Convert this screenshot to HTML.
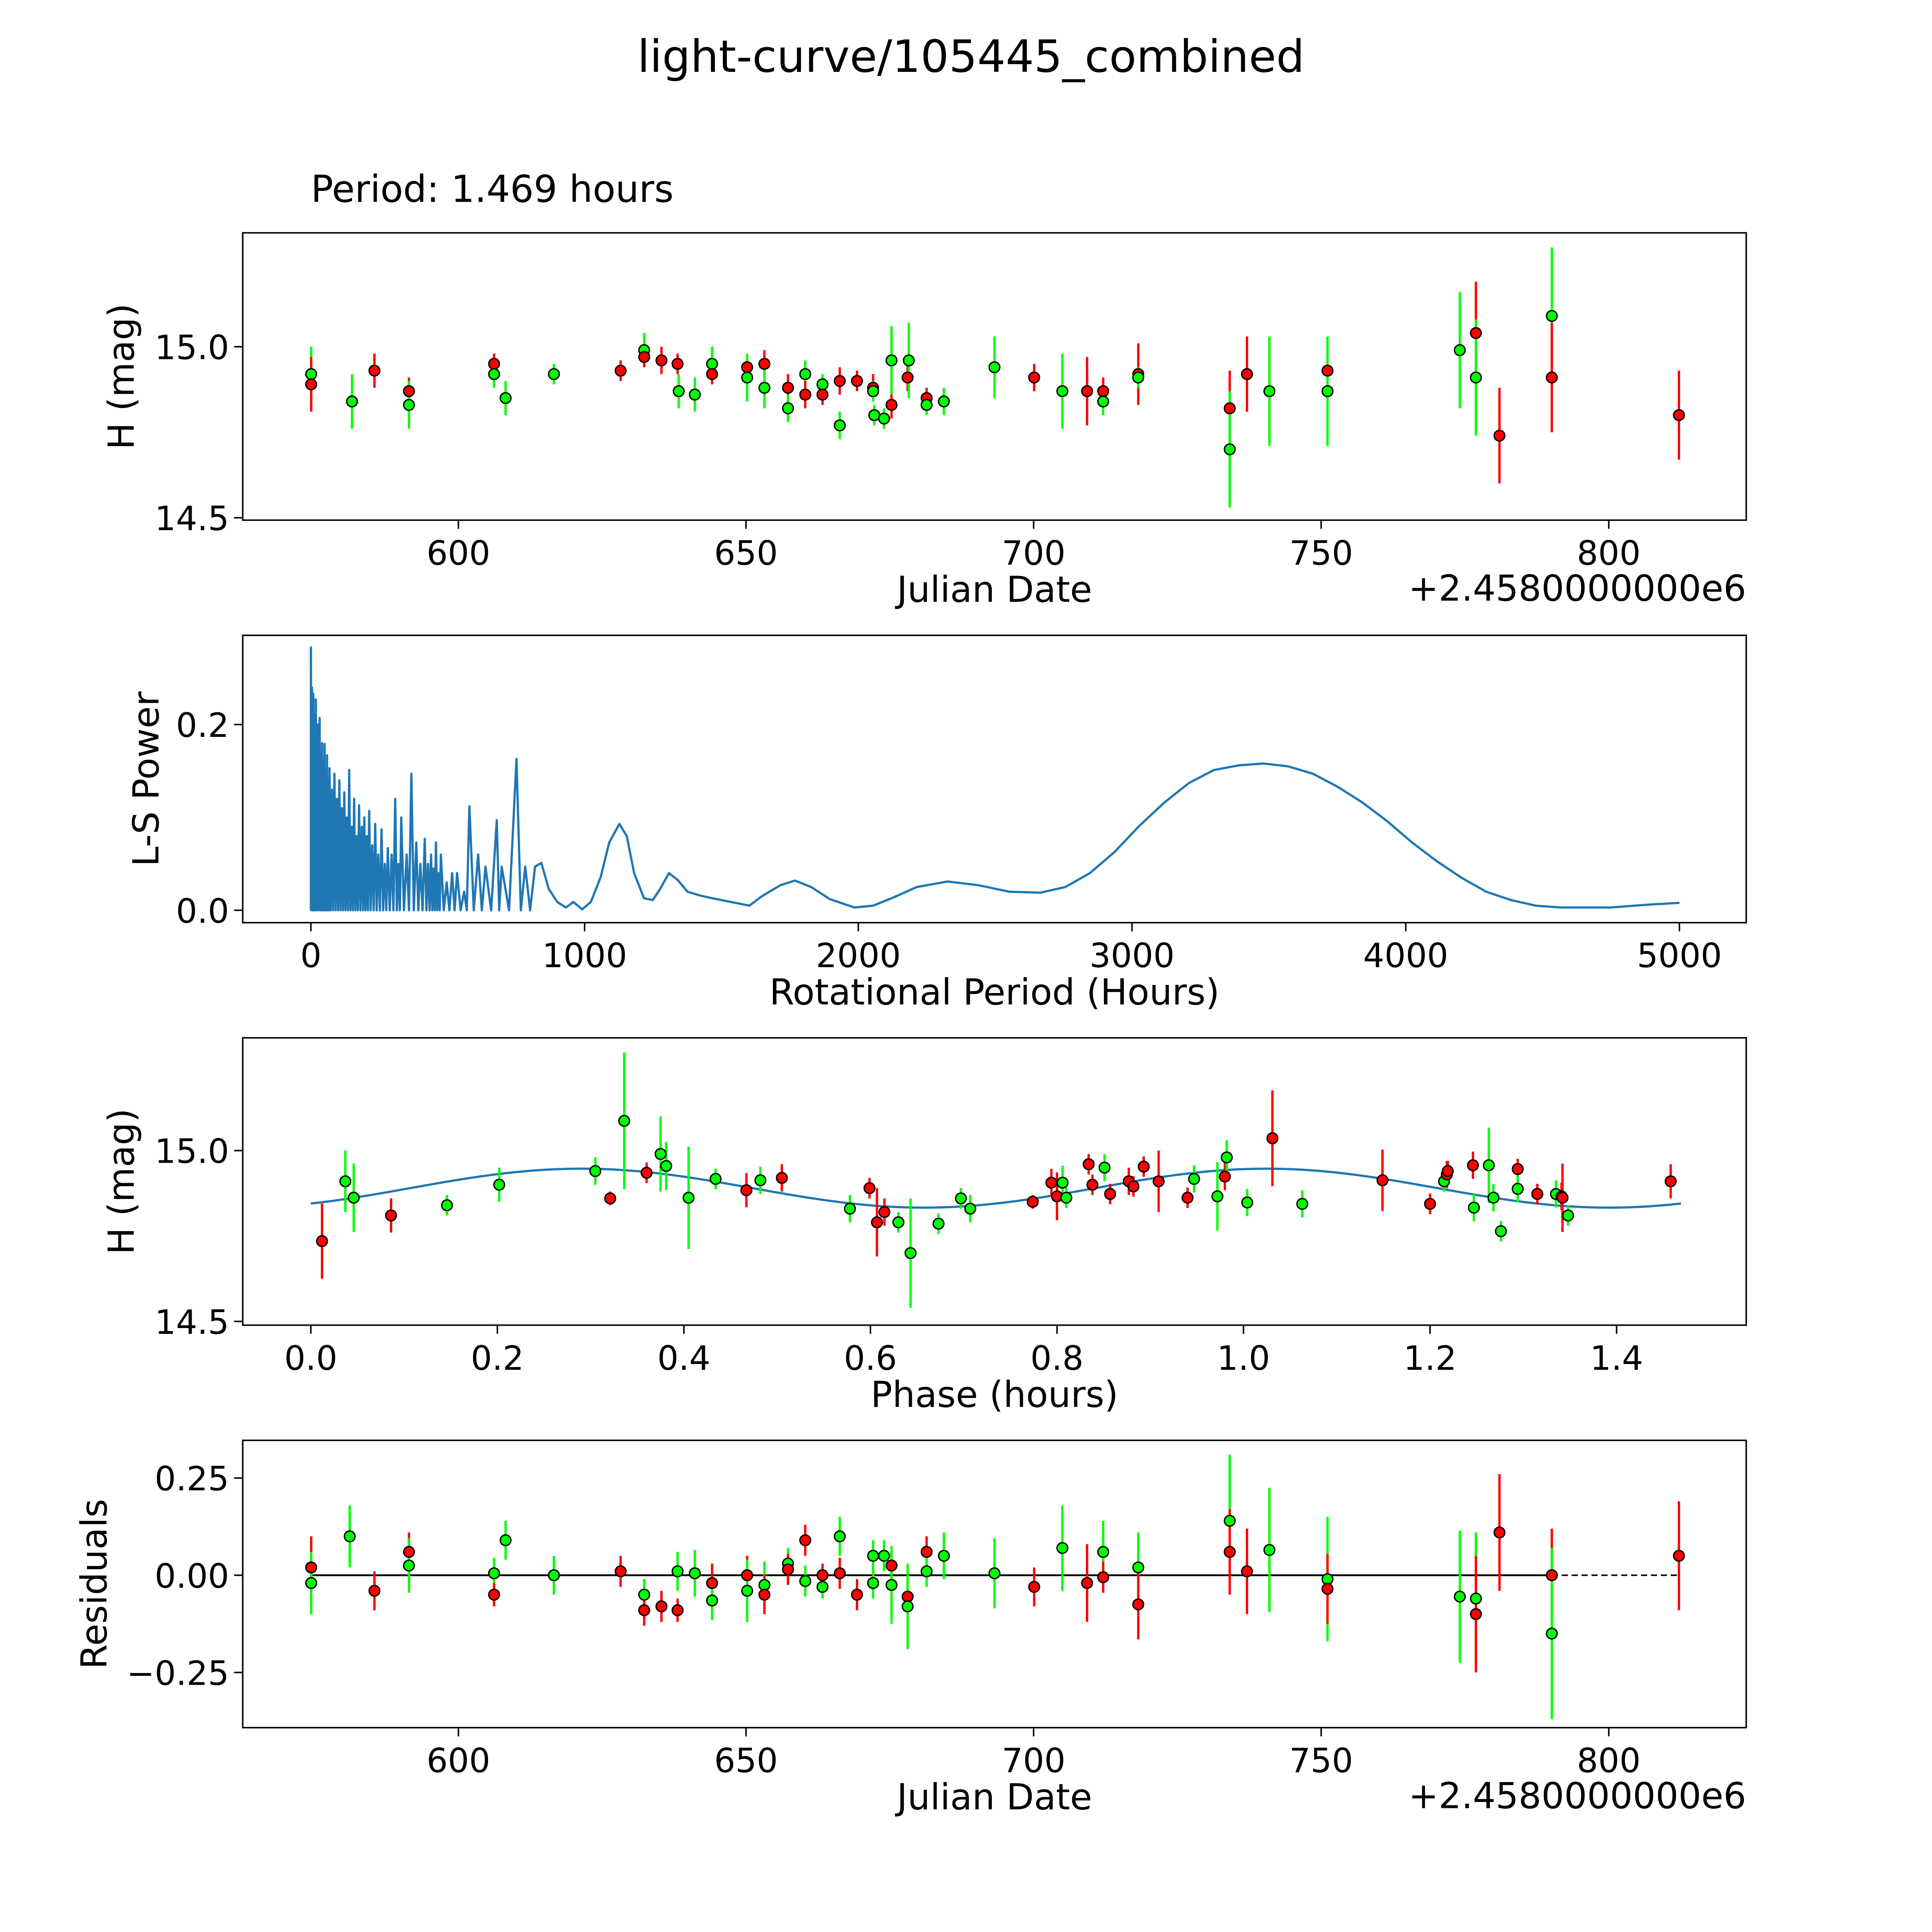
<!DOCTYPE html>
<html><head><meta charset="utf-8"><style>
html,body{margin:0;padding:0;background:#fff;overflow:hidden;width:100%;height:100%}
svg{display:block;width:100vw;height:100vh}
text{font-family:"DejaVu Sans","Liberation Sans",sans-serif;fill:#000}
</style></head><body>
<svg id="fig" viewBox="0 0 1560 1560" preserveAspectRatio="none" xmlns="http://www.w3.org/2000/svg">
<rect x="0" y="0" width="1560" height="1560" fill="#fff"/>
<text x="784" y="58" font-size="36" text-anchor="middle">light-curve/105445_combined</text>
<text x="251" y="163" font-size="30">Period: 1.469 hours</text>
</svg>
<script>
// ---- Panel 1: light curve ----
const lcJD  = [574.4,574.4,581.5,585.4,591.4,591.4,606.2,606.2,608.2,616.6,628.2,632.3,632.3,635.3,638.1,638.3,641.1,644.1,644.1,650.2,650.2,653.2,653.2,657.3,657.3,660.3,660.3,663.3,663.3,666.3,666.3,669.3,672.1,672.1,672.3,674.0,675.3,675.3,678.1,678.3,681.4,681.4,684.4,693.2,700.1,705.0,709.3,712.1,712.1,718.2,718.2,734.1,734.1,737.1,741.0,751.1,751.1,774.1,776.9,776.9,781.0,790.1,790.1,812.2];
const lcMag = [14.92,14.89,14.84,14.93,14.87,14.83,14.95,14.92,14.85,14.92,14.93,14.99,14.97,14.96,14.95,14.87,14.86,14.95,14.92,14.94,14.91,14.95,14.88,14.88,14.82,14.92,14.86,14.89,14.86,14.90,14.77,14.90,14.88,14.87,14.80,14.79,14.83,14.96,14.91,14.96,14.85,14.83,14.84,14.94,14.91,14.87,14.87,14.87,14.84,14.92,14.91,14.82,14.70,14.92,14.87,14.93,14.87,14.99,15.04,14.91,14.74,15.09,14.91,14.80];
const lcErr = [0.08,0.08,0.08,0.05,0.04,0.07,0.03,0.04,0.05,0.03,0.03,0.05,0.03,0.04,0.03,0.05,0.05,0.05,0.03,0.03,0.07,0.04,0.06,0.04,0.04,0.04,0.04,0.03,0.03,0.04,0.04,0.03,0.04,0.03,0.03,0.03,0.04,0.10,0.04,0.11,0.03,0.03,0.04,0.09,0.04,0.11,0.10,0.04,0.04,0.09,0.03,0.11,0.17,0.11,0.16,0.09,0.16,0.17,0.15,0.17,0.14,0.20,0.16,0.13];
const lcColors = ["g","r","g","r","r","g","r","g","g","g","r","g","r","r","r","g","g","g","r","r","g","r","g","r","g","g","r","g","r","r","g","r","r","g","g","g","r","g","r","g","r","g","g","g","r","g","r","r","g","r","g","r","g","r","g","r","g","g","r","g","r","g","r","r"];

// ---- Panel 2: periodogram ----
const spikeHours = [0,4,9,13,18,25,32,37,41,46,50,55,59,63,68,77,86,95,104,113,122,131,140,149,158,167,176,186,195,204,213,224,235,246,258,270,281,295,308,320,330,350,367,385,400,416,428,439,448,457,466,475,496,516,534,560,579,611,638,679,697,751,783];
const spikePower = [0.283,0.24,0.233,0.21,0.227,0.2,0.207,0.17,0.18,0.16,0.179,0.15,0.167,0.14,0.153,0.13,0.147,0.12,0.14,0.11,0.127,0.1,0.151,0.09,0.12,0.08,0.113,0.09,0.1,0.08,0.107,0.07,0.093,0.06,0.087,0.05,0.067,0.06,0.12,0.05,0.1,0.06,0.147,0.073,0.05,0.077,0.05,0.06,0.045,0.073,0.04,0.06,0.03,0.04,0.04,0.02,0.112,0.06,0.047,0.097,0.047,0.163,0.047];
const smoothHours = [819,842,869,900,932,959,991,1023,1059,1090,1127,1154,1181,1217,1249,1276,1308,1339,1376,1421,1466,1534,1602,1647,1715,1769,1828,1896,1986,2054,2122,2213,2326,2439,2552,2665,2756,2846,2937,3027,3118,3208,3299,3389,3480,3570,3661,3751,3842,3932,4023,4113,4204,4294,4385,4475,4566,4656,4747,4882,5000];
const smoothPower = [0.047,0.051,0.023,0.009,0.003,0.009,0.001,0.009,0.036,0.073,0.093,0.08,0.04,0.013,0.011,0.023,0.04,0.033,0.02,0.016,0.013,0.009,0.005,0.015,0.027,0.032,0.025,0.012,0.003,0.005,0.013,0.025,0.031,0.027,0.02,0.019,0.025,0.04,0.063,0.091,0.116,0.137,0.151,0.156,0.158,0.155,0.147,0.133,0.116,0.096,0.073,0.053,0.035,0.02,0.011,0.005,0.003,0.003,0.003,0.006,0.008];

// ---- Panel 3: phased ----
const phPhase = [0.012,0.037,0.046,0.086,0.146,0.202,0.305,0.321,0.336,0.36,0.375,0.381,0.405,0.434,0.467,0.482,0.505,0.578,0.599,0.607,0.615,0.63,0.643,0.673,0.697,0.707,0.774,0.794,0.80,0.806,0.81,0.834,0.838,0.851,0.857,0.877,0.882,0.893,0.909,0.94,0.947,0.972,0.98,0.982,1.004,1.031,1.063,1.149,1.2,1.215,1.218,1.219,1.246,1.247,1.263,1.268,1.276,1.294,1.294,1.315,1.335,1.341,1.342,1.348,1.458];
const phMag = [14.735,14.91,14.862,14.81,14.84,14.90,14.94,14.86,15.087,14.935,14.99,14.955,14.862,14.917,14.884,14.913,14.92,14.83,14.89,14.79,14.82,14.79,14.70,14.786,14.86,14.83,14.85,14.906,14.866,14.906,14.862,14.96,14.90,14.95,14.873,14.91,14.895,14.953,14.91,14.862,14.917,14.866,14.924,14.98,14.848,15.036,14.844,14.913,14.844,14.91,14.93,14.94,14.957,14.833,14.957,14.862,14.764,14.946,14.888,14.873,14.873,14.866,14.862,14.81,14.91];
const phErr = [0.11,0.09,0.1,0.05,0.03,0.05,0.04,0.02,0.2,0.03,0.11,0.07,0.15,0.03,0.05,0.04,0.04,0.04,0.03,0.1,0.04,0.03,0.16,0.03,0.03,0.04,0.02,0.04,0.07,0.05,0.03,0.03,0.03,0.04,0.03,0.04,0.03,0.03,0.09,0.03,0.04,0.1,0.04,0.05,0.04,0.14,0.04,0.09,0.03,0.03,0.04,0.03,0.04,0.04,0.11,0.04,0.03,0.03,0.04,0.03,0.04,0.04,0.1,0.03,0.05];
const phColors = ["r","g","g","r","g","g","g","r","g","r","g","g","g","g","r","g","r","g","r","r","r","g","g","g","g","g","r","r","r","g","g","r","r","g","r","r","r","r","r","r","g","g","r","g","g","r","g","r","r","g","r","r","r","g","g","g","g","r","g","r","g","r","r","g","r"];
const fitPeriod = [1.469];
const fitParams = [14.89, 0.057, -0.91]; // mean, amplitude, phase offset

// ---- Panel 4: residuals ----
const resJD = [574.4,574.4,581.1,585.4,591.4,591.4,606.2,606.2,608.2,616.6,628.2,632.3,632.3,635.3,638.1,638.1,641.1,644.1,644.1,650.2,650.2,653.2,653.2,657.3,657.3,660.3,660.3,663.3,663.3,666.3,666.3,669.3,672.1,672.1,672.1,674.0,675.3,675.3,678.1,678.1,681.4,681.4,684.4,693.2,700.1,705.0,709.3,712.1,712.1,718.2,718.2,734.1,734.1,737.1,741.0,751.1,751.1,774.1,776.9,776.9,781.0,790.1,790.1,812.2];
const resVal = [0.02,-0.02,0.10,-0.04,0.06,0.025,0.005,-0.05,0.09,0.0,0.01,-0.05,-0.09,-0.08,0.01,-0.09,0.005,-0.02,-0.065,0.0,-0.04,-0.025,-0.05,0.03,0.015,0.09,-0.015,0.0,-0.03,0.10,0.005,-0.05,-0.02,0.05,-0.02,0.05,0.025,-0.025,-0.055,-0.08,0.06,0.01,0.05,0.005,-0.03,0.07,-0.02,0.06,-0.005,0.02,-0.075,0.14,0.06,0.01,0.065,-0.01,-0.035,-0.055,-0.06,-0.10,0.11,0.0,-0.15,0.05];
const resErr = [0.08,0.08,0.08,0.05,0.05,0.07,0.04,0.03,0.05,0.05,0.04,0.04,0.04,0.04,0.05,0.03,0.06,0.05,0.05,0.05,0.08,0.06,0.05,0.04,0.04,0.04,0.04,0.03,0.03,0.05,0.04,0.04,0.04,0.04,0.04,0.04,0.04,0.10,0.04,0.11,0.04,0.04,0.06,0.09,0.05,0.11,0.10,0.08,0.04,0.09,0.09,0.17,0.11,0.11,0.16,0.16,0.09,0.17,0.17,0.15,0.15,0.12,0.22,0.14];
const resColors = ["r","g","g","r","r","g","g","r","g","g","r","g","r","r","g","r","g","r","g","r","g","g","r","g","r","r","g","r","g","g","r","r","r","g","g","g","r","g","r","g","r","g","g","g","r","g","r","g","r","g","r","g","r","r","g","g","r","g","g","r","r","r","g","r"];

const xTicksJD = [600,650,700,750,800];
const yTicksMag = [14.5,15.0];
const xTicksPer = [0,1000,2000,3000,4000,5000];
const yTicksPow = [0.0,0.2];
const xTicksPh = [0.0,0.2,0.4,0.6,0.8,1.0,1.2,1.4];
const yTicksRes = [-0.25,0.0,0.25];

const NS = "http://www.w3.org/2000/svg";
const svg = document.getElementById('fig');
function mk(tag, attrs, parent){const e=document.createElementNS(NS,tag);for(const k in attrs)e.setAttribute(k,attrs[k]);(parent||svg).appendChild(e);return e;}
const COL = {r:"#ff0000", g:"#00ff00"};

function makeAxes(name, box, xd, yd){
  const g = mk('g',{});
  
  
  const sx = v => box.x0 + (v - xd[0]) / (xd[1]-xd[0]) * (box.x1-box.x0);
  const sy = v => box.y1 - (v - yd[0]) / (yd[1]-yd[0]) * (box.y1-box.y0);
  return {g, sx, sy, box};
}
function frame(ax, xt, yt, xfmt, yfmt, xlab, ylab, ylabX){
  const {g,sx,sy,box}=ax;
  const r = mk('rect',{x:box.x0,y:box.y0,width:box.x1-box.x0,height:box.y1-box.y0,fill:"none",stroke:"#000","stroke-width":1.2},g);
  
  
  xt.forEach(v=>{const x=sx(v);
    mk('line',{x1:x,y1:box.y1,x2:x,y2:box.y1+7,stroke:"#000","stroke-width":1.2},g);
    const t=mk('text',{x:x,y:box.y1+36,"font-size":27,"text-anchor":"middle"},g);t.textContent=xfmt(v);
    
    
  });
  yt.forEach(v=>{const y=sy(v);
    mk('line',{x1:box.x0,y1:y,x2:box.x0-7,y2:y,stroke:"#000","stroke-width":1.2},g);
    const t=mk('text',{x:box.x0-11,y:y+10,"font-size":27,"text-anchor":"end"},g);t.textContent=yfmt(v);
    
    
  });
  const xl=mk('text',{x:(box.x0+box.x1)/2,y:box.y1+66,"font-size":29,"text-anchor":"middle"},g);xl.textContent=xlab;
  
  
  const cy=(box.y0+box.y1)/2;
  const yl=mk('text',{x:ylabX,y:cy,"font-size":29,"text-anchor":"middle",transform:`rotate(-90 ${ylabX} ${cy})`},g);yl.textContent=ylab;
  
  
}
function errPoints(ax, xs, ys, es, cs, nm){
  const {g,sx,sy}=ax;
  xs.forEach((v,i)=>{
    const x=sx(v), c=COL[cs[i]];
    const l=mk('line',{x1:x,y1:sy(ys[i]-es[i]),x2:x,y2:sy(ys[i]+es[i]),stroke:c,"stroke-width":1.9},g);
    
    
  });
  xs.forEach((v,i)=>{
    const p=mk('circle',{cx:sx(v),cy:sy(ys[i]),r:4.3,fill:COL[cs[i]],stroke:"#000","stroke-width":1.1},g);
    
    
  });
}
const JDX=[562.5,823.9];
// Panel 1
const a1 = makeAxes('light-curve-panel',{x0:196,x1:1410,y0:188,y1:420},JDX,[14.493,15.333]);
frame(a1,xTicksJD,yTicksMag,v=>String(v),v=>v.toFixed(1),'Julian Date','H (mag)',108);
errPoints(a1,lcJD,lcMag,lcErr,lcColors,'light-curve');
const off1=mk('text',{x:1410,y:485,"font-size":29,"text-anchor":"end"});off1.textContent='+2.4580000000e6';



// Panel 2
const a2 = makeAxes('periodogram-panel',{x0:196,x1:1410,y0:513,y1:745},[-249,5244],[-0.0133,0.296]);
frame(a2,xTicksPer,yTicksPow,v=>String(v),v=>v.toFixed(1),'Rotational Period (Hours)','L-S Power',128);
{
  let d=`M${a2.sx(0)},${a2.sy(0)}`;
  for(let i=0;i<spikeHours.length;i++){
    d+=` L${a2.sx(spikeHours[i])},${a2.sy(spikePower[i])}`;
    const nx = i+1<spikeHours.length ? spikeHours[i+1] : smoothHours[0];
    d+=` L${a2.sx((spikeHours[i]+nx)/2)},${a2.sy(0)}`;
  }
  for(let i=0;i<smoothHours.length;i++) d+=` L${a2.sx(smoothHours[i])},${a2.sy(smoothPower[i])}`;
  const p=mk('path',{d:d,fill:"none",stroke:"#1f77b4","stroke-width":1.8,"stroke-linejoin":"round"},a2.g);
  
  
}

// Panel 3
const a3 = makeAxes('phased-curve-panel',{x0:196,x1:1410,y0:838,y1:1070},[-0.073,1.539],[14.489,15.33]);
frame(a3,xTicksPh,yTicksMag,v=>v.toFixed(1),v=>v.toFixed(1),'Phase (hours)','H (mag)',108);
{
  let d='';
  for(let i=0;i<=300;i++){const ph=fitPeriod[0]*i/300;
    const m=fitParams[0]+fitParams[1]*Math.sin(4*Math.PI*ph/fitPeriod[0]+fitParams[2]);
    d+=(i?' L':'M')+a3.sx(ph)+','+a3.sy(m);}
  const p=mk('path',{d:d,fill:"none",stroke:"#1f77b4","stroke-width":1.8},a3.g);
  
  
}
errPoints(a3,phPhase,phMag,phErr,phColors,'phased');

// Panel 4
const a4 = makeAxes('residuals-panel',{x0:196,x1:1410,y0:1163,y1:1395},JDX,[-0.392,0.347]);
frame(a4,xTicksJD,yTicksRes,v=>String(v),v=>(v<0?'\u2212':'')+Math.abs(v).toFixed(2),'Julian Date','Residuals',86);
{
  const z1=mk('line',{x1:a4.sx(574.4),y1:a4.sy(0),x2:a4.sx(790.1),y2:a4.sy(0),stroke:"#000","stroke-width":1.5},a4.g);
  
  
  const z2=mk('line',{x1:a4.sx(790.1),y1:a4.sy(0),x2:a4.sx(812.2),y2:a4.sy(0),stroke:"#000","stroke-width":1.2,"stroke-dasharray":"5,3"},a4.g);
  
  
}
errPoints(a4,resJD,resVal,resErr,resColors,'residual');
const off4=mk('text',{x:1410,y:1460,"font-size":29,"text-anchor":"end"});off4.textContent='+2.4580000000e6';


</script>
</body></html>
